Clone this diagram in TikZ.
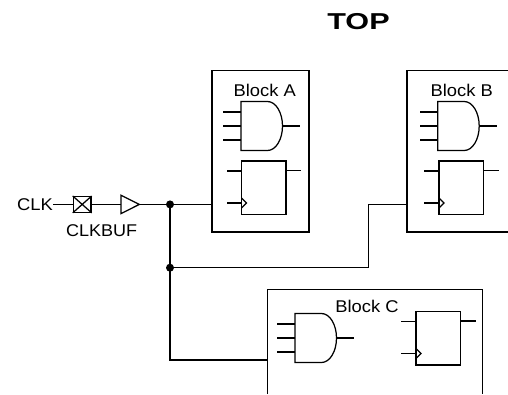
\documentclass[tikz,border=0pt]{standalone}
\usepackage{fontspec}
\setmainfont{Liberation Sans}
\tikzset{
  lbl/.style={inner sep=0pt, anchor=base, font=\fontsize{17}{17}\selectfont},
  ttl/.style={inner sep=0pt, anchor=base, font=\fontsize{23}{23}\selectfont\bfseries},
  wire/.style={line width=1.25pt},
  dot/.style={fill=black}
}
\newcommand\andg[2]{%
  \draw[wire] (#1,#2) -- ++(26.5,0) arc[start angle=-90,end angle=90,x radius=15,y radius=24.5] -- ++(-26.5,0) -- cycle;
  \draw[wire] (#1,#2+10.5) -- ++(-18,0);
  \draw[wire] (#1,#2+24.5) -- ++(-18,0);
  \draw[wire] (#1,#2+38.5) -- ++(-18,0);
  \draw[wire] (#1+41.5,#2+24.5) -- ++(17.5,0);
}
\newcommand\ffg[2]{%
  \draw[wire] (#1,#2) rectangle ++(44.5,53.5);
  \draw[wire] (#1,#2+10) -- ++(-15,0);
  \draw[wire] (#1,#2+42) -- ++(-15,0);
  \draw[wire] (#1,#2+37) -- (#1+5,#2+42) -- (#1,#2+47);
  \draw[wire] (#1+44.5,#2+9.5) -- ++(15,0);
}
\begin{document}
\begin{tikzpicture}[x=1pt,y=-1pt]
\useasboundingbox (0,0) rectangle (508,394);
% title
\node[ttl] (top) at (358.5,29) {\scalebox{1.33}[1]{TOP}};
% blocks
\draw[wire] (212,70.5) rectangle (309,232);
\draw[wire] (508,70.5) -- (407,70.5) -- (407,232) -- (508,232);
\draw[wire] (267.3,394) -- (267.3,289.3) -- (482.7,289.3) -- (482.7,394);
\node[lbl] (labA) at (264.7,96.7) {\scalebox{1.08}[1]{Block A}};
\node[lbl] (labB) at (461.7,96.7) {\scalebox{1.08}[1]{Block B}};
\node[lbl] (labC) at (367,312.3) {\scalebox{1.08}[1]{Block C}};
% gates
\andg{241}{101.5}
\ffg{241.5}{161}
\andg{437.7}{101.5}
\ffg{439}{161}
\andg{295}{313.5}
\ffg{416}{311.5}
% clock input
\node[lbl] (clk) at (35,210.7) {\scalebox{1.08}[1]{CLK}};
\node[lbl] (clkbuf) at (101.7,236) {\scalebox{1.06}[1]{CLKBUF}};
\node[draw, line width=1.25pt, minimum width=17.7pt, minimum height=15.6pt, inner sep=0pt] (pad) at (82.2,204.4) {};
\draw[wire] (pad.north west) -- (pad.south east) (pad.north east) -- (pad.south west);
\coordinate (clkend) at (53,204.4);
\coordinate (bufin) at (121,204.4);
\coordinate (bufout) at (139.3,204.4);
\draw[wire] (121,195.2) -- (bufout) -- (121,213.6) -- cycle;
\coordinate (j1) at (170,204.4);
\coordinate (j2) at (170,267.7);
\coordinate (Ain) at (212,204.4);
\coordinate (cv) at (170,360);
\coordinate (Cin) at (267.3,360);
\coordinate (bk) at (368.3,267.7);
\coordinate (bk2) at (368.3,204.4);
\coordinate (Bin) at (407,204.4);
\draw[wire] (clkend) -- (pad.west);
\draw[wire] (pad.east) -- (bufin);
\draw[wire] (bufout) -- (j1) -- (Ain);
\draw[wire] (j1) -- (j2) -- (cv) -- (Cin);
\draw[wire] (j2) -- (bk) -- (bk2) -- (Bin);
\fill[dot] (j1) circle[radius=4];
\fill[dot] (j2) circle[radius=4];
\end{tikzpicture}
\end{document}
